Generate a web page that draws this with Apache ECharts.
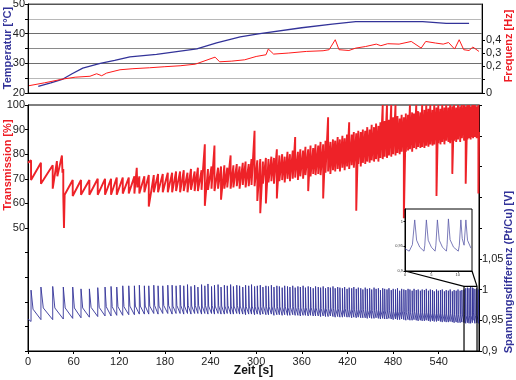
<!DOCTYPE html>
<html><head><meta charset="utf-8">
<script src="https://cdn.jsdelivr.net/npm/echarts@6/dist/echarts.min.js"></script>
<style>html,body{margin:0;padding:0;background:#fff}#c{width:516px;height:380px}</style>
</head><body><div id="c"></div>
<script>
// ---- top panel: temperature [s, °C] and frequency [s, Hz]
const tempData = [[13.5,22.2],[30,23.4],[46,24.7],[58,26.5],[72,28.4],[95,30],[114,31],[134,32.2],[169,33],[222,34.9],[248,36.9],[279,38.9],[305,40],[360,42],[400,43.2],[431,44.05],[519,44.05],[550,43.5],[580,43.5]];
const freqData = [[1.3,0.055],[22,0.077],[46,0.105],[62,0.119],[81.5,0.126],[90.3,0.145],[96.9,0.13],[103.4,0.15],[121,0.175],[138,0.183],[160,0.19],[180,0.198],[200,0.205],[220,0.217],[246,0.27],[252,0.235],[268,0.24],[285,0.25],[300,0.275],[313,0.288],[316,0.331],[323,0.293],[343,0.301],[366,0.313],[388,0.318],[396,0.326],[404,0.401],[409,0.326],[422,0.32],[431,0.338],[444,0.35],[458,0.368],[464,0.356],[473,0.371],[488,0.368],[504,0.388],[517,0.338],[523,0.388],[536,0.376],[546,0.368],[553,0.38],[561,0.331],[567,0.401],[573,0.326],[580,0.32],[585,0.346],[593,0.313]];

// ---- bottom panel: one entry per oscillation cycle (time of the voltage spike / transmission drop)
const cycleTimes = [4,17,32.5,46.4,58.8,69.7,80.7,91.7,101.3,109.2,
 116.7,124.6,132.5,139.9,146.4,153,158.8,165.4,171,177.2,
 183.8,189.5,194.7,200,204.8,209.7,214.3,219.1,223.4,228.2,
 232.5,236.6,241.3,245.2,249.9,253.8,258.2,262.0,266.4,270.1,
 274.5,278.2,282.4,286.1,290.2,293.9,297.9,301.5,305.4,308.9,
 312.8,316.2,320.0,323.4,327.2,330.5,334.2,337.5,341.2,344.4,
 348.1,351.3,354.9,358.1,361.7,364.8,368.4,371.5,375.0,378.1,
 381.6,384.7,388.1,391.2,394.6,397.6,401.0,403.9,407.2,410.1,
 413.4,416.3,419.5,422.3,425.6,428.4,431.6,434.3,437.5,440.3,
 443.4,446.1,449.2,451.9,455.0,457.7,460.7,463.4,466.4,469.0,
 472.0,474.6,477.6,480.2,483.2,485.8,488.7,491.3,494.2,496.8,
 499.7,502.2,505.1,507.6,510.5,513.0,515.9,518.3,521.2,523.7,
 526.5,529.0,531.8,534.2,537.1,539.5,542.3,544.7,547.5,549.9,
 552.7,555.1,557.9,560.3,563.0,565.4,568.2,570.5,573.3,575.5,
 577.8,579.9,582.0,584.3,585.2,587.6,589.9,592.2];
const voltPeak = [0.999,1.004,1.005,1.004,1.004,1.001,1.001,1.003,1.004,1.005,
 1.004,1.006,1.006,1.006,1.007,1.006,1.006,1.007,1.006,1.006,
 1.007,1.007,1.006,1.007,1.006,1.008,1.005,1.007,1.004,1.008,
 1.006,1.009,1.005,1.007,1.008,1.004,1.007,1.006,1.008,1.005,
 1.007,1.006,1.004,1.007,1.006,1.008,1.005,1.006,1.007,1.004,
 1.006,1.005,1.007,1.004,1.006,1.005,1.003,1.006,1.005,1.004,
 1.006,1.003,1.005,1.004,1.006,1.003,1.005,1.004,1.002,1.005,
 1.004,1.003,1.005,1.002,1.004,1.003,1.005,1.002,1.004,1.003,
 1.002,1.004,1.001,1.003,1.002,1.004,1.001,1.003,1.002,1.000,
 1.003,1.001,1.002,1.000,1.003,1.001,1.002,0.999,1.002,1.001,
 1.000,1.002,0.999,1.001,1.000,1.002,0.998,1.001,1.000,0.999,
 1.001,1.000,0.998,1.001,0.999,1.000,0.998,1.000,0.999,1.001,
 0.998,1.000,0.999,0.997,1.000,0.998,0.999,1.000,0.997,0.999,
 0.998,1.000,0.997,0.999,0.998,1.000,0.998,0.999,1.000,1.002,
 1.003,1.002,1.004,1.003,1.002,1.001,1.002,1.000];
const voltBase = [0.948,0.951,0.951,0.952,0.953,0.954,0.955,0.956,0.957,0.957,
 0.958,0.958,0.959,0.959,0.960,0.960,0.960,0.961,0.960,0.961,
 0.961,0.960,0.961,0.961,0.960,0.961,0.960,0.961,0.961,0.960,
 0.961,0.960,0.961,0.960,0.961,0.960,0.960,0.961,0.960,0.960,
 0.961,0.960,0.960,0.959,0.960,0.960,0.959,0.960,0.959,0.960,
 0.959,0.959,0.960,0.958,0.959,0.959,0.958,0.959,0.958,0.958,
 0.959,0.958,0.958,0.957,0.958,0.958,0.957,0.958,0.957,0.957,
 0.957,0.956,0.957,0.956,0.956,0.957,0.956,0.955,0.956,0.955,
 0.955,0.956,0.955,0.955,0.954,0.955,0.954,0.955,0.954,0.954,
 0.954,0.953,0.954,0.953,0.953,0.954,0.953,0.952,0.953,0.952,
 0.952,0.953,0.952,0.951,0.952,0.951,0.951,0.952,0.951,0.950,
 0.951,0.950,0.950,0.951,0.950,0.949,0.950,0.949,0.949,0.950,
 0.949,0.948,0.949,0.948,0.948,0.949,0.948,0.947,0.948,0.947,
 0.947,0.948,0.947,0.946,0.947,0.946,0.946,0.947,0.946,0.945,
 0.946,0.945,0.945,0.946,0.950,0.945,0.946,0.945];
const voltDecay = [0.968,0.970,0.970,0.970,0.970,0.970,0.971,0.971,0.972,0.972,
 0.972,0.972,0.973,0.973,0.973,0.973,0.973,0.974,0.973,0.974,
 0.974,0.973,0.974,0.974,0.973,0.974,0.973,0.974,0.974,0.973,
 0.974,0.973,0.974,0.973,0.974,0.973,0.973,0.974,0.973,0.973,
 0.974,0.973,0.973,0.972,0.973,0.973,0.972,0.973,0.972,0.973,
 0.972,0.972,0.973,0.971,0.972,0.972,0.971,0.972,0.971,0.971,
 0.972,0.971,0.971,0.970,0.971,0.971,0.970,0.971,0.970,0.970,
 0.970,0.969,0.970,0.969,0.969,0.970,0.969,0.968,0.969,0.968,
 0.968,0.969,0.968,0.968,0.967,0.968,0.967,0.968,0.967,0.967,
 0.967,0.966,0.967,0.966,0.966,0.967,0.966,0.965,0.966,0.965,
 0.965,0.966,0.965,0.964,0.965,0.964,0.964,0.965,0.964,0.963,
 0.964,0.963,0.963,0.964,0.963,0.962,0.963,0.962,0.962,0.963,
 0.962,0.961,0.962,0.961,0.961,0.962,0.961,0.960,0.961,0.960,
 0.960,0.961,0.960,0.959,0.960,0.959,0.959,0.960,0.959,0.958,
 0.959,0.958,0.958,0.959,0.962,0.958,0.959,0.958];
const transHigh = [77.5,76.5,75.5,74,69.5,69.5,69.5,70,70,70,
 70.5,70.5,70.5,71,71,71,71.5,71.5,72,72,
 72.5,72.5,73,73,73.5,72.5,74,73,74.5,73.5,
 84,74,75,83.5,74.5,75,75.5,74.5,79.5,75.5,
 76,75,76.5,77,76,78,89.5,77.5,78,77,
 78.5,78,79,78.5,82,79.5,80,79,81,80,
 81.5,87,81,82,81.5,83,82,83.5,82.5,84,
 83.5,85,84,85.5,95,85,86,85.5,87,86,
 87.5,86.5,88,93,88,89,88.5,89.5,89,90,
 89.5,91,90,92,91,92.5,91.5,93,100,93.5,
 100,94,100,95,100,95.5,94.5,96,95,96.5,
 96,100,97,96.5,100,97.5,97,100,98,100,
 98.5,100,98,100,99,100,98.5,100,99,100,
 99,100,99.5,100,99,100,99.5,100,100,99.5,
 100,100,99.5,100,100,100,99.5,100];
const transLow = [69.5,68,66,63,63,63.5,63.5,63.5,63.5,63.5,
 63.5,64,64,64,64,64.5,58.7,64.5,64.5,64.5,
 64.5,64.5,65,64.5,65,64.5,65.5,65,65,65.5,
 59,65.5,66,65,66,61.5,66,66.5,66,66.5,
 67,66,67.5,66.5,67,67.5,67,61,56,68,
 60,68.5,69,68,62,69,69.5,68.5,70,69,
 70,70.5,69.5,71,70,71.5,65,71,72,71.5,
 72,71.5,62,72.5,73,72,73.5,73,74,73,
 74.5,73.5,75,74,75.5,74.5,57,76,75,76.5,
 76,77,76.5,77.5,77,78,77,78.5,78,79,
 78.5,79.5,79,80,79.5,80.5,80,81,54,81,
 81.5,82,81,82.5,82,83,82.5,83,82.5,83.5,
 83,84,83.5,84,63,84.5,84,85,84,85.5,
 85,84.5,72,85.5,85,86,85,86.5,85.5,68,
 86,86.5,86,87,86.5,87,86.5,64];
// isolated transmission spikes between cycles [s, %]
const transSpikes = [[38,77.2],[38.6,71],[44.6,79.5],[45.3,72.5],[47.3,50],[48.2,63.5],[143,74.5],[143.7,66.5]];
const transEdges = [[0,76.5],[593,89]];
const voltEdges = [[0,0.952],[593,0.958]];
// inset: last seconds of the voltage trace [s, V]
const insetData = [[0,0.945],[0.8,0.94],[1.4,0.953],[1.84,1.003],[2.2,0.962],[2.8,0.948],[3.6,0.94],[3.75,0.952],[4.05,1.003],[4.4,0.962],[5.0,0.948],[5.7,0.94],[5.85,0.952],[6.14,1.003],[6.5,0.962],[7.1,0.948],[7.85,0.94],[7.98,0.953],[8.23,1.005],[8.55,0.963],[9.2,0.948],[10.1,0.94],[10.3,0.952],[10.59,1.003],[10.85,0.965],[11.2,0.952],[11.3,0.955],[11.54,1.003],[11.85,0.962],[12.5,0.946]];
const zoomWindow = [573.3, 590.4];
const zoomLevel = [0.9, 1.005];
const xTicks = [0,60,120,180,240,300,360,420,480,540];

// ---- build series from the arrays
const transPts = [transEdges[0]];
cycleTimes.forEach((t,i)=>{ transPts.push([t,transHigh[i]]); transPts.push([t,transLow[i]]); });
transSpikes.forEach(p=>transPts.push(p));
transPts.push(transEdges[1]);
transPts.sort((a,b)=>a[0]-b[0]);
const voltPts = [voltEdges[0]];
cycleTimes.forEach((t,i)=>{
  const next = i < cycleTimes.length-1 ? cycleTimes[i+1] : voltEdges[1][0];
  voltPts.push([t,voltBase[i]]); voltPts.push([t,voltPeak[i]]);
  voltPts.push([t+0.2*(next-t),voltDecay[i]]);
});
voltPts.push(voltEdges[1]);

const FONT = '"Liberation Sans", Arial, sans-serif';
const comma = v => String(Math.round(v*1000)/1000).replace('.', ',');
const lbl = {color:'#222', fontSize:11, fontFamily:FONT};
const axLine = {show:true, lineStyle:{color:'#000', width:1}};
const tick = {show:true, inside:false, length:3, lineStyle:{color:'#000'}};

const chart = echarts.init(document.getElementById('c'), null, {renderer:'canvas'});
chart.setOption({
  animation:false,
  grid:[
    {left:28, top:4, width:454, height:89, show:true, borderColor:'#555', borderWidth:1, outerBoundsMode:'none', containLabel:false},
    {left:28, top:105, width:451, height:246, show:true, borderColor:'#000', borderWidth:1, outerBoundsMode:'none', containLabel:false},
    {left:405, top:209, width:67, height:62, show:true, borderColor:'#000', borderWidth:1, backgroundColor:'#fff', z:5, outerBoundsMode:'none', containLabel:false}
  ],
  xAxis:[
    {gridIndex:0, type:'value', min:0, max:597, axisLine:axLine, axisTick:{show:false}, axisLabel:{show:false}, splitLine:{show:false}},
    {gridIndex:1, type:'value', min:0, max:593, interval:60, axisLine:axLine, axisTick:Object.assign({customValues:xTicks}, tick),
     axisLabel:Object.assign({margin:5, customValues:xTicks}, lbl), splitLine:{show:false},
     name:'Zeit [s]', nameLocation:'middle', nameGap:14, nameMoveOverlap:false,
     nameTextStyle:{fontWeight:'bold', fontSize:12, color:'#111', fontFamily:FONT, verticalAlign:'top'}},
    {gridIndex:2, type:'value', min:0, max:12.7, interval:5, z:6, axisLine:axLine, axisTick:{show:true,length:1.5,lineStyle:{color:'#000'}},
     axisLabel:{showMaxLabel:false, fontSize:4, margin:2, color:'#333', fontFamily:FONT}, splitLine:{show:false}}
  ],
  yAxis:[
    {gridIndex:0, type:'value', min:20, max:50, interval:5, position:'left', axisLine:axLine, axisTick:tick,
     axisLabel:Object.assign({margin:3, formatter:v=>v%10===0?String(v):''}, lbl),
     splitLine:{show:true, lineStyle:{color:['#000','#b8b8b8','#6e6e6e','#8a8a8a','#6e6e6e','#b8b8b8','#555'], width:1}}},
    {gridIndex:0, type:'value', min:0, max:0.67, position:'right', axisLine:axLine,
     axisTick:{show:true, length:3, customValues:[0,0.1,0.2,0.3,0.4], lineStyle:{color:'#000'}},
     axisLabel:Object.assign({margin:4, customValues:[0,0.2,0.3,0.4], formatter:comma}, lbl), splitLine:{show:false}},
    {gridIndex:1, type:'value', min:0, max:100, interval:10, position:'left', axisLine:axLine, axisTick:tick,
     axisLabel:Object.assign({margin:3, formatter:v=>v>=50?String(v):''}, lbl), splitLine:{show:false}},
    {gridIndex:1, type:'value', min:0.9, max:1.3, interval:0.05, position:'right', axisLine:axLine, axisTick:tick,
     axisLabel:Object.assign({margin:3, formatter:v=>v<=1.051?comma(v):''}, lbl), splitLine:{show:false}},
    {gridIndex:2, type:'value', min:0.9, max:1.025, interval:0.05, z:6, axisLine:axLine, axisTick:{show:true,length:1.5,lineStyle:{color:'#000'}},
     axisLabel:{showMaxLabel:false, fontSize:4, margin:2, color:'#333', fontFamily:FONT, formatter:comma}, splitLine:{show:false}}
  ],
  series:[
    {name:'Temperatur', type:'line', xAxisIndex:0, yAxisIndex:0, data:tempData, showSymbol:false, symbol:'none',
     lineStyle:{color:'#333399', width:1.3}, z:3},
    {name:'Frequenz', type:'line', xAxisIndex:0, yAxisIndex:1, data:freqData, showSymbol:false, symbol:'none',
     lineStyle:{color:'#ff1a1a', width:1}, z:3},
    {name:'Transmission', type:'line', xAxisIndex:1, yAxisIndex:2, data:transPts, showSymbol:false, symbol:'none',
     lineStyle:{color:'#ee2228', width:1.9, join:'bevel'}, z:2},
    {name:'Spannungsdifferenz', type:'line', xAxisIndex:1, yAxisIndex:3, data:voltPts, showSymbol:false, symbol:'none',
     lineStyle:{color:'#333399', width:0.9}, z:3},
    {name:'Zoom', type:'line', xAxisIndex:1, yAxisIndex:3, showSymbol:false, symbol:'none',
     data:[[zoomWindow[0],zoomLevel[0]],[zoomWindow[0],zoomLevel[1]],[zoomWindow[1],zoomLevel[1]],[zoomWindow[1],zoomLevel[0]]],
     lineStyle:{color:'#000', width:1.2}, z:4},
    {name:'Inset', type:'line', xAxisIndex:2, yAxisIndex:4, data:insetData, showSymbol:false, symbol:'none',
     lineStyle:{color:'#5a5aa8', width:0.8}, z:7}
  ]
});

// connectors from the inset frame to the zoom window, and axis titles
const a = chart.convertToPixel({xAxisIndex:1, yAxisIndex:3}, [zoomWindow[0], zoomLevel[1]]);
const b = chart.convertToPixel({xAxisIndex:1, yAxisIndex:3}, [zoomWindow[1], zoomLevel[1]]);
const c = chart.convertToPixel({xAxisIndex:2, yAxisIndex:4}, [0, 0.9]);
const d = chart.convertToPixel({xAxisIndex:2, yAxisIndex:4}, [12.7, 0.9]);
const title = (text, x, y, color) => ({type:'text', x, y, rotation:Math.PI/2, z:10,
  style:{text, fill:color, font:'bold 11px ' + FONT, align:'center', verticalAlign:'middle'}});
chart.setOption({graphic:[
  {type:'line', z:10, shape:{x1:c[0], y1:c[1], x2:a[0], y2:a[1]}, style:{stroke:'#000', lineWidth:1.2}},
  {type:'line', z:10, shape:{x1:d[0], y1:d[1], x2:b[0], y2:b[1]}, style:{stroke:'#000', lineWidth:1.2}},
  title('Temperatur [°C]', 8, 48, '#333399'),
  title('Frequenz [Hz]', 509, 46, '#ee1c24'),
  title('Transmission [%]', 8, 165, '#ee1c24'),
  title('Spannungsdifferenz (Pt/Cu) [V]', 509, 272, '#333399')
]});
</script></body></html>
